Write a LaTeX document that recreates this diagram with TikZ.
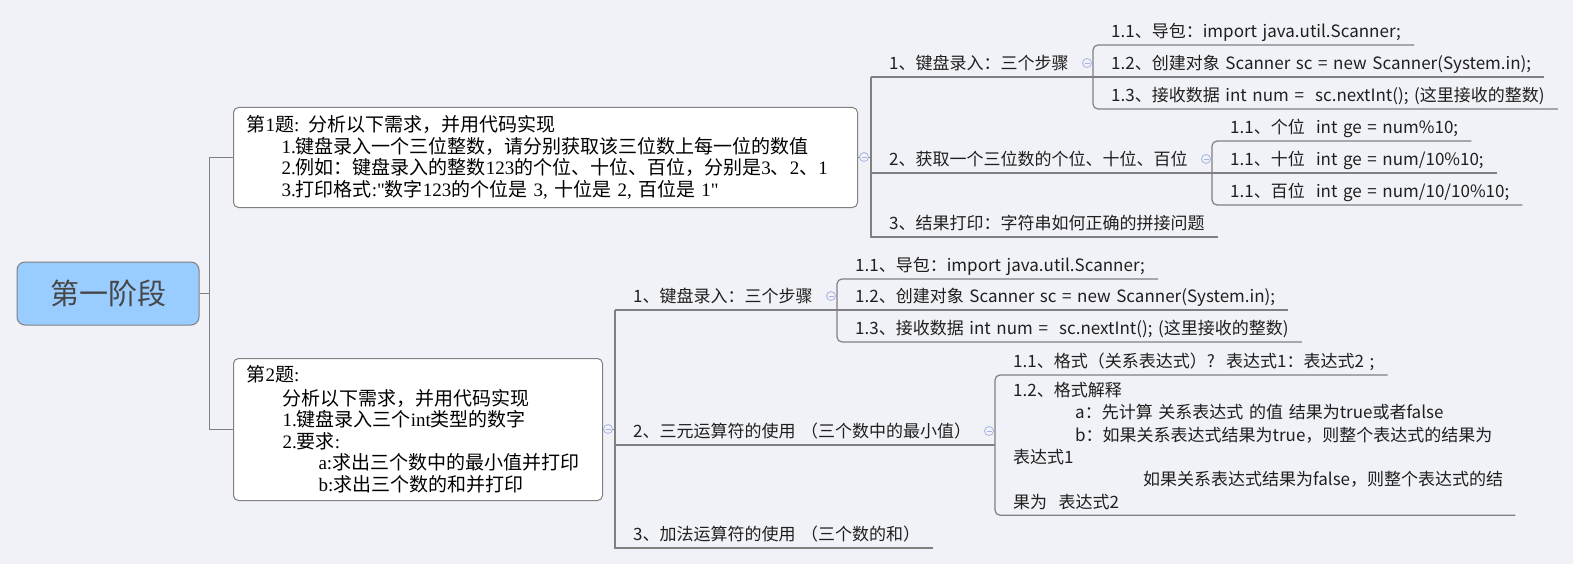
\documentclass[tikz,border=0pt]{standalone}
\usepackage{fontspec}
\setmainfont{Noto Sans CJK SC}
\newfontfamily\numserif{Liberation Serif}
\newcommand{\rn}[1]{{\numserif #1}}
\usepackage{tikz}
\usetikzlibrary{positioning}
\definecolor{Colorfondo}{RGB}{241,242,247}
\definecolor{Colorraiz}{RGB}{153,204,255}
\definecolor{Colorlinea}{RGB}{128,128,128}
\definecolor{Colormarca}{RGB}{165,180,225}

\begin{document}
\begin{tikzpicture}[
  x=1pt, y=-1pt,
  font=\fontsize{17}{22.6}\selectfont,
  raiz/.style={draw=Colorlinea, fill=Colorraiz, rounded corners=8pt,
               minimum width=182pt, minimum height=63pt, line width=1pt,
               text=black!72, font=\fontsize{29}{32}\selectfont},
  tema/.style={draw=Colorlinea, fill=white, rounded corners=5pt, anchor=north west,
               align=left, inner xsep=13pt, inner ysep=0pt, line width=1pt,
               font=\fontsize{19}{21.5}\selectfont},
  hoja/.style={anchor=south west, inner sep=0pt, text height=13pt, text depth=7.5pt,
               text=black!88, execute at begin node={\spaceskip=0.33em\hspace{18pt}},
               execute at end node=\hspace{13pt}},
  bloque/.style={anchor=base west, inner sep=0pt, align=left, text width=520pt,
                 text=black!88, font=\fontsize{17}{22.3}\selectfont},
  con/.style={draw=Colorlinea, line width=1.2pt},
  plegar/.style={circle, draw=Colormarca, fill=Colorfondo, minimum size=9pt,
                 inner sep=0pt, line width=0.8pt,
                 path picture={\draw[Colormarca, line width=0.8pt]
                   ([xshift=-2.5pt]path picture bounding box.center) --
                   ([xshift=2.5pt]path picture bounding box.center);}}
]

\fill[Colorfondo] (0,0) rectangle (1573,564);
\useasboundingbox (0,0) rectangle (1573,564);

%% ——— Raiz ———
\node[raiz] (raiz) at (108,293.5) {第一阶段};

%% ——— Temas ———
\node[tema, text width=598pt, minimum height=100pt] (tema1) at (233,107)
  {第\rn{1}题\rn{:} 分析以下需求，并用代码实现\\
   \hspace*{35pt}\rn{1.}键盘录入一个三位整数，请分别获取该三位数上每一位的数值\\
   \hspace*{35pt}\rn{2.}例如：键盘录入的整数\rn{123}的个位、十位、百位，分别是\rn{3}、\rn{2}、\rn{1}\\
   \hspace*{35pt}\rn{3.}打印格式\rn{:"}数字\rn{123}的个位是 \rn{3,} 十位是 \rn{2,} 百位是 \rn{1"}};
\node[tema, text width=343pt, minimum height=142pt] (tema2) at (233,358)
  {第\rn{2}题\rn{:}\\[2pt]
   \hspace*{36pt}分析以下需求，并用代码实现\\
   \hspace*{36pt}\rn{1.}键盘录入三个\rn{int}类型的数字\\
   \hspace*{36pt}\rn{2.}要求\rn{:}\\
   \hspace*{72pt}\rn{a:}求出三个数中的最小值并打印\\
   \hspace*{72pt}\rn{b:}求出三个数的和并打印};

\draw[con] (raiz.east) -- ++(10,0) |- (tema1.west);
\draw[con] (raiz.east) -- ++(10,0) |- (tema2.west);

%% ——— Tema 1: hijos ———
\node[hoja] (c1) at (871,77)  {1、键盘录入：三个步骤};
\node[hoja] (c2) at (871,173) {2、获取一个三位数的个位、十位、百位};
\node[hoja] (c3) at (871,237) {3、结果打印：字符串如何正确的拼接问题};

\node[hoja] (c11) at (1093,45)  {1.1、导包：import java.util.Scanner;};
\node[hoja] (c12) at (1093,77)  {1.2、创建对象 Scanner sc = new Scanner(System.in);};
\node[hoja] (c13) at (1093,109) {1.3、接收数据 int num =\ \ sc.nextInt(); (这里接收的整数)};

\node[hoja] (c21) at (1212,141) {1.1、个位\ \ int ge = num\%10;};
\node[hoja] (c22) at (1212,173) {1.1、十位\ \ int ge = num/10\%10;};
\node[hoja] (c23) at (1212,205) {1.1、百位\ \ int ge = num/10/10\%10;};

\draw[con] (tema1.east) -- (tema1.east -| c1.south west);
\draw[con] (c1.south west) -- (c3.south west) -- (c3.south east);
\draw[con] (c1.south west) -- (c12.south west);
\draw[con] (c2.south west) -- (c22.south west);
\draw[con, rounded corners=5pt] (c11.south east) -- (c11.south west) -- (c13.south west) -- (c13.south east);
\draw[con] (c12.south west) -- (c12.south east);
\draw[con, rounded corners=5pt] (c21.south east) -- (c21.south west) -- (c23.south west) -- (c23.south east);
\draw[con] (c22.south west) -- (c22.south east);

%% ——— Tema 2: hijos ———
\node[hoja] (d1) at (615,310) {1、键盘录入：三个步骤};
\node[hoja] (d2) at (615,445) {2、三元运算符的使用 （三个数中的最小值）};
\node[hoja] (d3) at (615,548) {3、加法运算符的使用 （三个数的和）};

\node[hoja] (d11) at (837,279) {1.1、导包：import java.util.Scanner;};
\node[hoja] (d12) at (837,310) {1.2、创建对象 Scanner sc = new Scanner(System.in);};
\node[hoja] (d13) at (837,342) {1.3、接收数据 int num =\ \ sc.nextInt(); (这里接收的整数)};

\node[hoja] (d21) at (995,375) {1.1、格式（关系表达式）?\ \ 表达式1：表达式2 ;};
\node[bloque] (d22) at (995,396.5)
  {\hspace*{18pt}1.2、格式解释\\
   \hspace*{80pt}a：先计算 关系表达式 的值 结果为true或者false\\
   \hspace*{80pt}b：如果关系表达式结果为true，则整个表达式的结果为\\
   \hspace*{18pt}表达式1\\
   \hspace*{148pt}如果关系表达式结果为false，则整个表达式的结\\
   \hspace*{18pt}果为\ \ 表达式2\rule[-7pt]{0pt}{7pt}};

\draw[con] (tema2.east) -- (tema2.east -| d1.south west);
\draw[con] (d1.south west) -- (d3.south west) -- (d3.south east);
\draw[con] (d1.south west) -- (d12.south west);
\draw[con] (d2.south west) -- (d2.south west -| d21.south west);
\draw[con, rounded corners=5pt] (d11.south east) -- (d11.south west) -- (d13.south west) -- (d13.south east);
\draw[con] (d12.south west) -- (d12.south east);
\draw[con, rounded corners=5pt] (d21.south east) -- (d21.south west) -- (d22.south west) -- (d22.south east);

%% ——— Marcas de plegado ———
\node[plegar] (p1)  at (864,157) {};
\node[plegar] (p11) at (1087,63) {};
\node[plegar] (p12) at (1206,159) {};
\node[plegar] (p2)  at (608,429) {};
\node[plegar] (p21) at (831,296) {};
\node[plegar] (p22) at (989,431) {};

\end{tikzpicture}
\end{document}
